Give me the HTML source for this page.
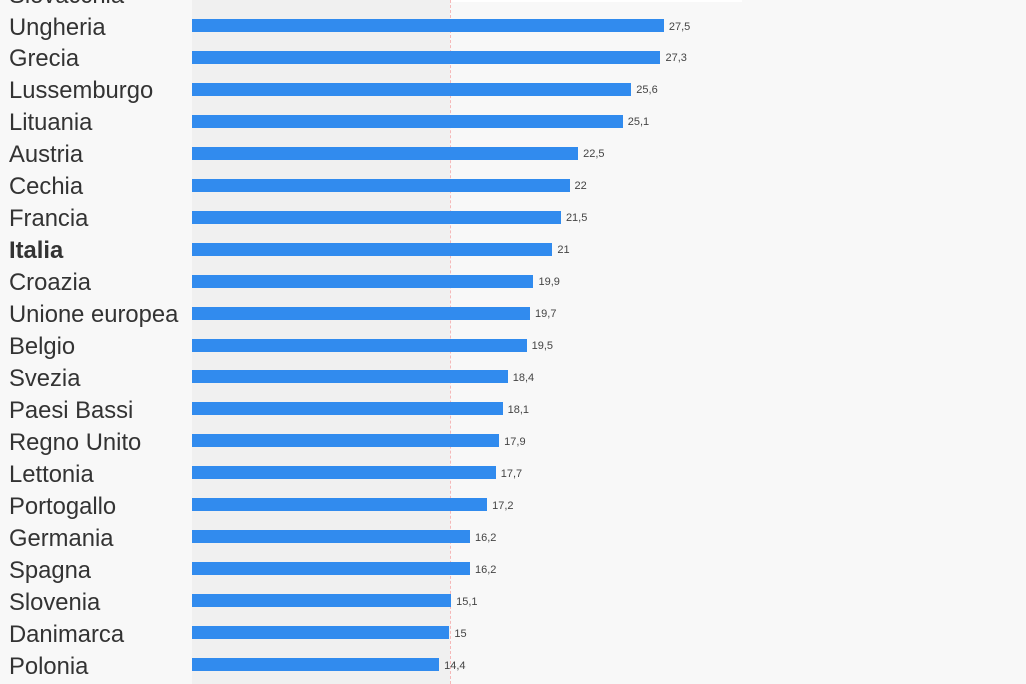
<!DOCTYPE html><html><head><style>
body{margin:0;width:1026px;height:684px;background:#f8f8f8;position:relative;overflow:hidden;font-family:"Liberation Sans",sans-serif}
.band{position:absolute;left:192px;top:0;width:258px;height:684px;background:#f0f0f0}
.dash{position:absolute;left:450px;top:0;height:684px;border-left:1px dashed #f5b8b8}
.l{position:absolute;left:9px;font-size:23.8px;color:#333;line-height:26px;white-space:nowrap}
.b{position:absolute;left:192px;height:13px;background:#318bee}
.v{position:absolute;font-size:11px;color:#444;line-height:13px}
</style></head><body>
<div style="position:absolute;left:450px;top:0;width:292px;height:2px;background:#fff"></div>
<div class="band"></div><div class="dash"></div>
<div id="c"></div>
<script>
var d=[["Slovacchia",28],["Ungheria",27.5],["Grecia",27.3],["Lussemburgo",25.6],["Lituania",25.1],["Austria",22.5],["Cechia",22],["Francia",21.5],["Italia",21],["Croazia",19.9],["Unione europea",19.7],["Belgio",19.5],["Svezia",18.4],["Paesi Bassi",18.1],["Regno Unito",17.9],["Lettonia",17.7],["Portogallo",17.2],["Germania",16.2],["Spagna",16.2],["Slovenia",15.1],["Danimarca",15],["Polonia",14.4]];
var h="";d.forEach(function(r,i){var c=25.5+(i-1)*31.95;var w=r[1]*17.16;
h+='<div class="l" style="top:'+(c-11)+'px;'+(r[0]=="Italia"?'font-weight:bold':'')+'">'+r[0]+'</div>';
if(i>0){h+='<div class="b" style="top:'+(c-6.5)+'px;width:'+w+'px"></div><div class="v" style="top:'+(c-5)+'px;left:'+(192+w+5)+'px">'+String(r[1]).replace(".",",")+'</div>';}});
document.getElementById("c").innerHTML=h;
</script></body></html>
